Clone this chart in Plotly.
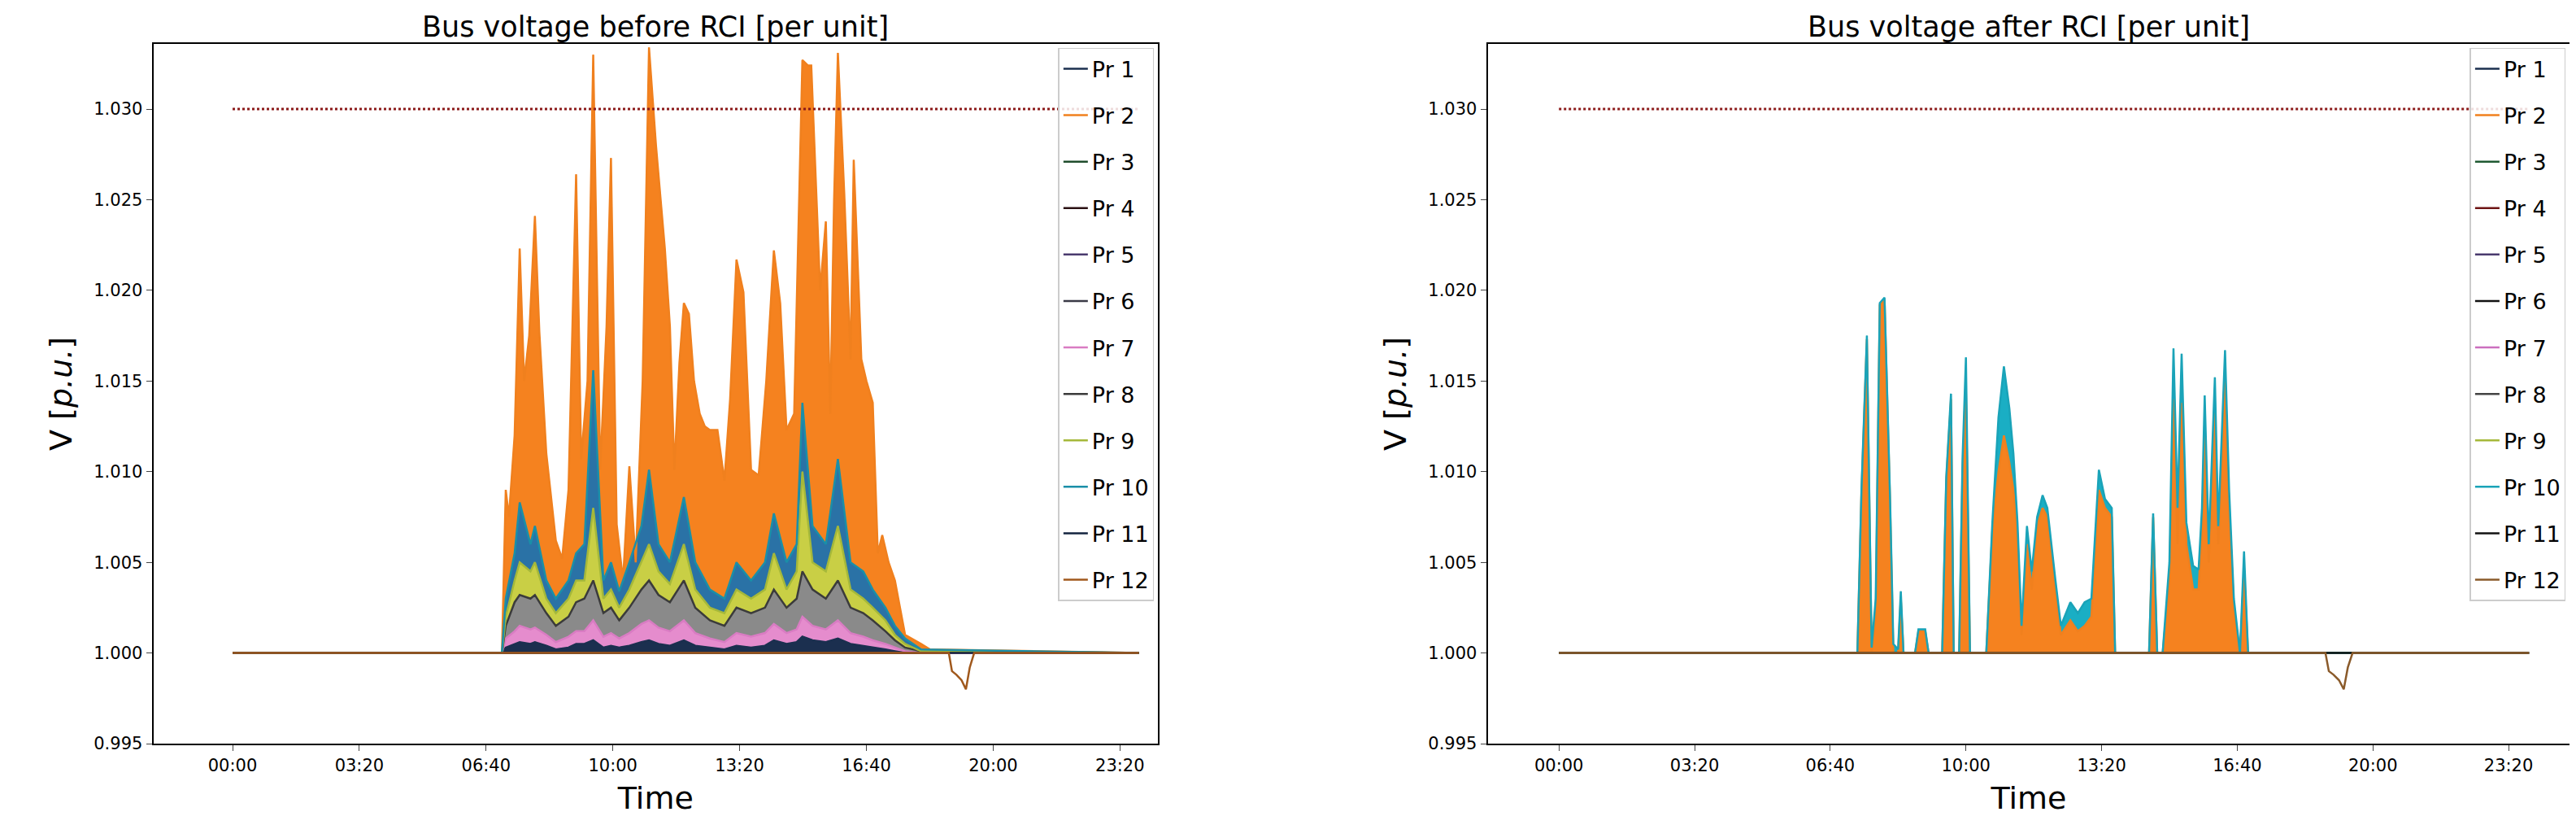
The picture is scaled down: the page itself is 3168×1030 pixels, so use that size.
import plotly.graph_objects as go
from plotly.subplots import make_subplots

# time axis in minutes after midnight
TICK_VALS = [0, 200, 400, 600, 800, 1000, 1200, 1400]
TICK_TEXT = ["00:00", "03:20", "06:40", "10:00", "13:20", "16:40", "20:00", "23:20"]
Y_TICKS = [0.995, 1.000, 1.005, 1.010, 1.015, 1.020, 1.025, 1.030]

LIMIT_T = [0, 1430]
LIMIT_V = [1.030, 1.030]
FLAT_T = [0, 1430]
FLAT_V = [1.0, 1.0]

# ---- before RCI ----
L_OR_T = [0, 425, 431, 436, 445, 453, 460, 468, 477, 484, 495, 510, 520, 530, 542, 550, 560, 569, 580, 590,
          597, 606, 616, 626, 636, 647, 657, 668, 682, 690, 697, 705, 712, 720, 728, 737, 745, 753, 765, 776,
          785, 795, 806, 818, 830, 842, 854, 864, 874, 886, 899, 908, 913, 919, 927, 936, 943, 949, 955, 965,
          975, 980, 992, 1000, 1010, 1018, 1025, 1035, 1045, 1053, 1061, 1086, 1100, 1430]
L_OR_V = [1.0, 1.0, 1.0090, 1.0075, 1.0120, 1.0223, 1.0150, 1.0175, 1.0241, 1.0177, 1.0110, 1.0062, 1.0052, 1.0090,
          1.0264, 1.0107, 1.0150, 1.0330, 1.0101, 1.0180, 1.0273, 1.0071, 1.0040, 1.0103, 1.0050, 1.0150, 1.0334,
          1.0280, 1.0223, 1.0180, 1.0101, 1.0160, 1.0193, 1.0187, 1.0150, 1.0132, 1.0125, 1.0123, 1.0123, 1.0095,
          1.0140, 1.0217, 1.0199, 1.0101, 1.0098, 1.0150, 1.0222, 1.0193, 1.0123, 1.0132, 1.0327, 1.0324, 1.0324,
          1.0269, 1.0200, 1.0238, 1.0132, 1.0250, 1.0331, 1.0254, 1.0162, 1.0272, 1.0162, 1.0150, 1.0138, 1.0055,
          1.0065, 1.0050, 1.0040, 1.0025, 1.0010, 1.0005, 1.0002, 1.0]

L_B_T = [0, 425, 431, 445, 453, 470, 477, 495, 510, 530, 542, 555, 569, 585, 597, 610, 626, 645, 657, 672, 690,
         712, 730, 753, 776, 795, 818, 840, 854, 874, 890, 899, 915, 936, 955, 975, 995, 1010, 1030, 1045, 1061,
         1086, 1430]
L_PR10 = [1.0, 1.0, 1.0030, 1.0055, 1.0083, 1.0060, 1.0070, 1.0040, 1.0030, 1.0040, 1.0055, 1.0060, 1.0156, 1.0040,
          1.0050, 1.0034, 1.0050, 1.0070, 1.0101, 1.0060, 1.0050, 1.0086, 1.0050, 1.0035, 1.0030, 1.0050, 1.0040,
          1.0050, 1.0077, 1.0050, 1.0060, 1.0138, 1.0070, 1.0060, 1.0107, 1.0050, 1.0045, 1.0035, 1.0025, 1.0015,
          1.0008, 1.0002, 1.0]
L_PR9 = [1.0, 1.0, 1.0020, 1.0040, 1.0050, 1.0045, 1.0050, 1.0030, 1.0022, 1.0030, 1.0040, 1.0040, 1.0080, 1.0030,
         1.0035, 1.0025, 1.0035, 1.0050, 1.0060, 1.0045, 1.0038, 1.0060, 1.0035, 1.0025, 1.0022, 1.0035, 1.0030,
         1.0035, 1.0055, 1.0035, 1.0045, 1.0100, 1.0050, 1.0045, 1.0070, 1.0035, 1.0030, 1.0025, 1.0018, 1.0010,
         1.0005, 1.0001, 1.0]
L_PR8 = [1.0, 1.0, 1.0015, 1.0028, 1.0032, 1.0030, 1.0032, 1.0022, 1.0015, 1.0020, 1.0028, 1.0030, 1.0040, 1.0022,
         1.0025, 1.0018, 1.0025, 1.0035, 1.0040, 1.0032, 1.0028, 1.0040, 1.0025, 1.0018, 1.0015, 1.0025, 1.0022,
         1.0025, 1.0035, 1.0025, 1.0030, 1.0045, 1.0035, 1.0030, 1.0040, 1.0025, 1.0022, 1.0018, 1.0012, 1.0007,
         1.0003, 1.0001, 1.0]
L_PR7 = [1.0, 1.0, 1.0008, 1.0012, 1.0015, 1.0013, 1.0014, 1.0010, 1.0006, 1.0009, 1.0012, 1.0012, 1.0018, 1.0009,
         1.0011, 1.0008, 1.0011, 1.0016, 1.0018, 1.0014, 1.0012, 1.0018, 1.0011, 1.0008, 1.0006, 1.0011, 1.0009,
         1.0011, 1.0016, 1.0011, 1.0013, 1.0020, 1.0015, 1.0013, 1.0018, 1.0011, 1.0009, 1.0007, 1.0005, 1.0003,
         1.0001, 1.0, 1.0]
L_PR1 = [1.0, 1.0, 1.0003, 1.0005, 1.0006, 1.0005, 1.0006, 1.0004, 1.0002, 1.0003, 1.0005, 1.0005, 1.0007, 1.0003,
         1.0004, 1.0003, 1.0004, 1.0006, 1.0007, 1.0005, 1.0004, 1.0007, 1.0004, 1.0003, 1.0002, 1.0004, 1.0003,
         1.0004, 1.0007, 1.0005, 1.0006, 1.0009, 1.0007, 1.0006, 1.0008, 1.0005, 1.0004, 1.0003, 1.0002, 1.0001,
         1.0, 1.0, 1.0]

DIP_T = [0, 1130, 1135, 1142, 1150, 1157, 1163, 1170, 1430]
DIP_V = [1.0, 1.0, 0.9990, 0.9988, 0.9985, 0.9980, 0.9992, 1.0, 1.0]

# ---- after RCI ----
R_T = [0, 440, 446, 454, 461, 467, 473, 480, 488, 493, 500, 504, 508, 525, 530, 540, 545, 565, 571, 578,
       582, 590, 595, 600, 606, 630, 639, 648, 656, 664, 670, 676, 682, 690, 697, 705, 713, 720, 732, 740,
       754, 765, 775, 785, 796, 805, 815, 820, 860, 870, 876, 882, 890, 900, 906, 912, 918, 925, 935, 943,
       948, 952, 958, 962, 967, 972, 977, 982, 988, 995, 1004, 1010, 1016, 1430]
R_PR10 = [1.0, 1.0, 1.0090, 1.0175, 1.0003, 1.0030, 1.0193, 1.0196, 1.0088, 1.0005, 1.0002, 1.0034, 1.0, 1.0,
          1.0013, 1.0013, 1.0, 1.0, 1.0097, 1.0143, 1.0, 1.0, 1.0107, 1.0163, 1.0, 1.0, 1.0072, 1.0130, 1.0158,
          1.0135, 1.0110, 1.0072, 1.0015, 1.0070, 1.0045, 1.0075, 1.0087, 1.0080, 1.0040, 1.0015, 1.0028, 1.0022,
          1.0028, 1.0030, 1.0101, 1.0085, 1.0080, 1.0, 1.0, 1.0, 1.0077, 1.0, 1.0, 1.0050, 1.0168, 1.0080, 1.0165,
          1.0072, 1.0048, 1.0046, 1.0080, 1.0142, 1.0060, 1.0100, 1.0152, 1.0070, 1.0120, 1.0167, 1.0090, 1.0030,
          1.0, 1.0056, 1.0, 1.0]
R_PR2 = [1.0, 1.0, 1.0088, 1.0173, 1.0, 1.0020, 1.0192, 1.0195, 1.0085, 1.0, 1.0, 1.0030, 1.0, 1.0,
         1.0012, 1.0012, 1.0, 1.0, 1.0095, 1.0140, 1.0, 1.0, 1.0100, 1.0145, 1.0, 1.0, 1.0068, 1.0100, 1.0120,
         1.0105, 1.0090, 1.0065, 1.0010, 1.0060, 1.0035, 1.0070, 1.0080, 1.0075, 1.0035, 1.0010, 1.0018, 1.0012,
         1.0015, 1.0020, 1.0090, 1.0080, 1.0075, 1.0, 1.0, 1.0, 1.0075, 1.0, 1.0, 1.0040, 1.0140, 1.0060, 1.0138,
         1.0060, 1.0035, 1.0035, 1.0070, 1.0120, 1.0050, 1.0090, 1.0135, 1.0060, 1.0105, 1.0150, 1.0080, 1.0025,
         1.0, 1.0045, 1.0, 1.0]

NAMES = ["Pr %d" % i for i in range(1, 13)]
L_COLORS = ["#1b2f4f", "#f0801e", "#1f4d2c", "#2a1012", "#4a3a6e", "#3a3a46",
            "#d97cc3", "#3b3b3b", "#a5b83a", "#1a8fa8", "#13233f", "#a0581c"]
R_COLORS = ["#1b2f4f", "#f0801e", "#1f5a32", "#6e1414", "#4a3a6e", "#111111",
            "#cc6fbf", "#444444", "#a5b83a", "#1aa3b8", "#111111", "#8a5a2a"]

fig = make_subplots(rows=1, cols=2)


def band(t, v, color, col):
    fig.add_trace(go.Scatter(x=t + t[::-1], y=v + [1.0] * len(t), fill="toself", mode="lines",
                             line=dict(width=0.8, color=color), fillcolor=color,
                             showlegend=False, hoverinfo="skip"), row=1, col=col)


# left fills
band(L_OR_T, L_OR_V, "#f5821f", 1)
band(L_B_T, L_PR10, "#2a72a6", 1)
band(L_B_T, L_PR9, "#c9cf45", 1)
band(L_B_T, L_PR8, "#8a8a8a", 1)
band(L_B_T, L_PR7, "#e58ccd", 1)
band(L_B_T, L_PR1, "#1b2f4f", 1)
# right fills
band(R_T, R_PR10, "#1aaec4", 2)
band(R_T, R_PR2, "#f5821f", 2)

left_series = {1: (L_B_T, L_PR1), 2: (L_OR_T, L_OR_V), 7: (L_B_T, L_PR7), 8: (L_B_T, L_PR8),
               9: (L_B_T, L_PR9), 10: (L_B_T, L_PR10), 12: (DIP_T, DIP_V)}
right_series = {2: (R_T, R_PR2), 10: (R_T, R_PR10), 12: (DIP_T, DIP_V)}

for col, series, colors, leg in [(1, left_series, L_COLORS, "legend"), (2, right_series, R_COLORS, "legend2")]:
    for i, name in enumerate(NAMES):
        t, v = series.get(i + 1, (FLAT_T, FLAT_V))
        fig.add_trace(go.Scatter(x=t, y=v, mode="lines", name=name, legend=leg,
                                 legendgroup=leg + name, line=dict(color=colors[i], width=2.5)),
                      row=1, col=col)
    fig.add_trace(go.Scatter(x=LIMIT_T, y=LIMIT_V, mode="lines", showlegend=False,
                             line=dict(color="#8b1a1a", width=3, dash="dot")), row=1, col=col)

axis_font = dict(family="DejaVu Sans", size=21, color="black")
for col, xr in ((1, [-125, 1460]), (2, [-105, 1490])):
    fig.update_xaxes(range=xr, tickvals=TICK_VALS, ticktext=TICK_TEXT, showgrid=False,
                     zeroline=False, showline=True, linecolor="black", linewidth=2, mirror=True,
                     ticks="outside", ticklen=7, tickfont=axis_font,
                     title=dict(text="Time", font=dict(family="DejaVu Sans", size=38)), row=1, col=col)
    fig.update_yaxes(range=[0.995, 1.0336], tickvals=Y_TICKS, tickformat=".3f", showgrid=False,
                     zeroline=False, showline=True, linecolor="black", linewidth=2, mirror=True,
                     ticks="outside", ticklen=7, tickfont=axis_font,
                     title=dict(text="V [<i>p.u.</i>]", font=dict(family="DejaVu Sans", size=38)),
                     row=1, col=col)

fig.update_layout(
    width=3168, height=1030,
    plot_bgcolor="white", paper_bgcolor="white",
    margin=dict(l=0, r=0, t=0, b=0),
    xaxis=dict(domain=[0.057, 0.447]),
    xaxis2=dict(domain=[0.575, 0.995]),
    yaxis=dict(domain=[0.11, 0.955]),
    yaxis2=dict(domain=[0.11, 0.955]),
    font=dict(family="DejaVu Sans", color="black"),
    legend=dict(x=0.4455, xanchor="right", y=0.95, yanchor="top", bgcolor="rgba(255,255,255,0.85)",
                bordercolor="#cccccc", borderwidth=1.5, font=dict(size=27), tracegroupgap=19),
    legend2=dict(x=0.9935, xanchor="right", y=0.95, yanchor="top", bgcolor="rgba(255,255,255,0.85)",
                 bordercolor="#cccccc", borderwidth=1.5, font=dict(size=27), tracegroupgap=19),
    annotations=[
        dict(text="Bus voltage before RCI [per unit]", x=0.252, y=0.997, xref="paper", yref="paper",
             xanchor="center", yanchor="top", showarrow=False, font=dict(size=35, family="DejaVu Sans")),
        dict(text="Bus voltage after RCI [per unit]", x=0.785, y=0.997, xref="paper", yref="paper",
             xanchor="center", yanchor="top", showarrow=False, font=dict(size=35, family="DejaVu Sans")),
    ],
)

fig.write_html("out.html")
